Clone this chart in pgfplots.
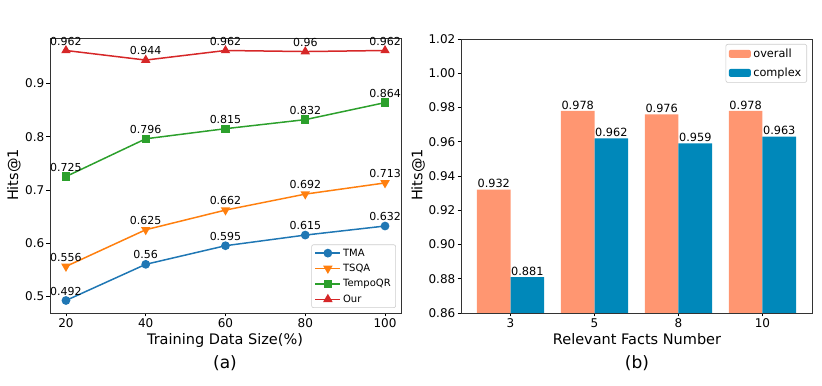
\documentclass[border=0pt]{standalone}
\usepackage{pgfplots}
\pgfplotsset{compat=1.18}
\usepackage{fontspec}
\setmainfont{DejaVu Sans}

\definecolor{tma}{HTML}{1F77B4}
\definecolor{tsqa}{HTML}{FF7F0E}
\definecolor{tempo}{HTML}{2CA02C}
\definecolor{our}{HTML}{D62728}
\definecolor{overall}{HTML}{FF9671}
\definecolor{complex}{HTML}{0088BA}

\pgfplotsset{
  /pgf/number format/assume math mode=true,
  paper/.style={
    scale only axis,
    tick align=outside, tick pos=left,
    major tick length=3.5bp,
    tick style={black, line width=0.6bp},
    axis line style={black!80, line width=0.8bp},
    ticklabel style={font=\fontsize{12bp}{14bp}\selectfont, inner sep=2bp},
    legend cell align=left,
  },
}

\begin{document}
\begin{tikzpicture}
\useasboundingbox (0,0) rectangle (822bp,386bp);

% (a) training data size
\begin{axis}[paper,
  at={(50bp,73bp)}, anchor=south west,
  width=351bp, height=275bp,
  xmin=16, xmax=104, ymin=0.4685, ymax=0.9855,
  xtick={20,40,60,80,100},
  ytick={0.5,0.6,0.7,0.8,0.9},
  yticklabel style={/pgf/number format/fixed, /pgf/number format/precision=1},
  nodes near coords,
  every node near coord/.append style={
    font=\fontsize{11bp}{13bp}\selectfont, text=black,
    anchor=south, inner sep=0bp, yshift=4.5bp,
    /pgf/number format/fixed, /pgf/number format/precision=3},
  every axis plot/.append style={line width=1.5bp},
  legend style={at={(1,0)}, anchor=south east, xshift=-5bp, yshift=5bp,
    draw=black!20, rounded corners=2bp, line width=0.6bp,
    font=\fontsize{10bp}{12bp}\selectfont, row sep=2.5bp},
  legend image code/.code={
    \draw[#1, mark=none] (0bp,0bp) -- (25bp,0bp);
    \draw[#1] plot coordinates {(12.5bp,0bp)};},
]
\addplot[color=tma, mark=*, mark size=3.6bp] coordinates {
 (20,0.492) (40,0.56) (60,0.595) (80,0.615) (100,0.632)};
\addlegendentry{TMA}
\addplot[color=tsqa, mark=triangle*, mark options={rotate=180}, mark size=4bp] coordinates {
 (20,0.556) (40,0.625) (60,0.662) (80,0.692) (100,0.713)};
\addlegendentry{TSQA}
\addplot[color=tempo, mark=square*, mark size=3.4bp] coordinates {
 (20,0.725) (40,0.796) (60,0.815) (80,0.832) (100,0.864)};
\addlegendentry{TempoQR}
\addplot[color=our, mark=triangle*, mark size=4bp] coordinates {
 (20,0.962) (40,0.944) (60,0.962) (80,0.96) (100,0.962)};
\addlegendentry{Our}
\end{axis}

% (b) relevant facts number
\begin{axis}[paper,
  at={(461bp,73bp)}, anchor=south west,
  width=351bp, height=274bp,
  xmin=-0.59, xmax=3.59, ymin=0.86, ymax=1.02,
  xtick={0,1,2,3}, xticklabels={3,5,8,10},
  ytick={0.86,0.88,0.90,0.92,0.94,0.96,0.98,1.00,1.02},
  yticklabel style={/pgf/number format/fixed, /pgf/number format/fixed zerofill,
    /pgf/number format/precision=2},
  ybar, bar width=33.6bp,
  nodes near coords,
  every node near coord/.append style={
    font=\fontsize{11.3bp}{13bp}\selectfont, text=black,
    anchor=south, inner sep=0bp, yshift=1.5bp,
    /pgf/number format/fixed, /pgf/number format/precision=3},
  legend style={at={(1,1)}, anchor=north east, xshift=-5bp, yshift=-5bp,
    draw=black!20, rounded corners=2bp, line width=0.6bp,
    font=\fontsize{11.3bp}{13bp}\selectfont, row sep=4bp,
    nodes={inner sep=2.5bp}},
  legend image code/.code={\fill[#1] (0bp,-4bp) rectangle (22bp,4bp);},
]
\addplot[fill=overall, draw=none, bar shift=-16.8bp] coordinates {
 (0,0.932) (1,0.978) (2,0.976) (3,0.978)};
\addlegendentry{overall}
\addplot[fill=complex, draw=none, bar shift=16.8bp] coordinates {
 (0,0.881) (1,0.962) (2,0.959) (3,0.963)};
\addlegendentry{complex}
\end{axis}

% axis labels and panel captions
\node[anchor=base, font=\fontsize{14.5bp}{16bp}\selectfont] at (225bp,41bp) {Training Data Size(\%)};
\node[anchor=base, font=\fontsize{17bp}{19bp}\selectfont] at (225bp,18bp) {(a)};
\node[anchor=base, font=\fontsize{14.5bp}{16bp}\selectfont] at (637bp,41bp) {Relevant Facts Number};
\node[anchor=base, font=\fontsize{17bp}{19bp}\selectfont] at (637bp,18bp) {(b)};
\node[rotate=90, font=\fontsize{14.5bp}{16bp}\selectfont] at (14bp,211bp) {Hits@1};
\node[rotate=90, font=\fontsize{14.5bp}{16bp}\selectfont] at (418bp,211bp) {Hits@1};
\end{tikzpicture}
\end{document}
